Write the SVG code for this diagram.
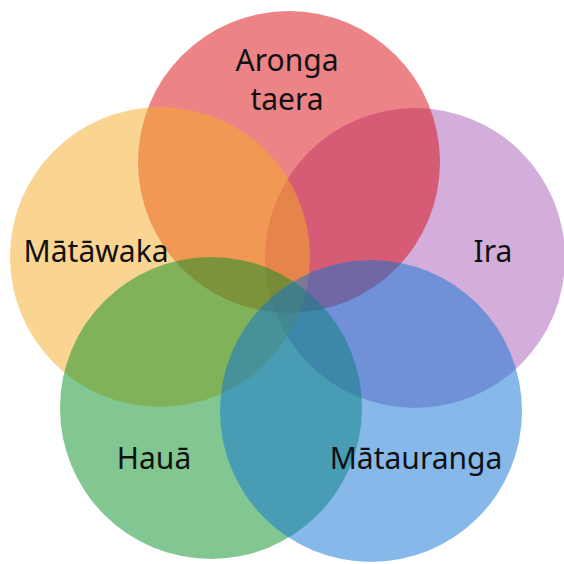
<svg xmlns="http://www.w3.org/2000/svg" width="564" height="564" viewBox="0 0 564 564">
<style>
.c{opacity:0.5}
.t{font-family:"Noto Sans","Open Sans",sans-serif;font-size:30px;fill:#111;text-anchor:middle}
</style>
<rect width="564" height="564" fill="#fff"/>
<g id="ira"><circle class="c" cx="415" cy="258" r="150" fill="#a75db7"/></g>
<g id="aronga-taera"><circle class="c" cx="289" cy="162" r="151" fill="#d90a10"/></g>
<g id="matawaka"><circle class="c" cx="160" cy="257" r="150" fill="#f5ab23"/></g>
<g id="haua"><circle class="c" cx="211" cy="408" r="151" fill="#058f23"/></g>
<g id="matauranga"><circle class="c" cx="371" cy="411" r="151" fill="#0d71d5"/></g>
<g id="connectors"></g>
<g id="labels">
<text class="t" x="287" y="71">Aronga</text>
<text class="t" x="287" y="110">taera</text>
<text class="t" x="96" y="262">Mātāwaka</text>
<text class="t" x="493" y="262">Ira</text>
<text class="t" x="154" y="469">Hauā</text>
<text class="t" x="416" y="469">Mātauranga</text>
</g>
</svg>
